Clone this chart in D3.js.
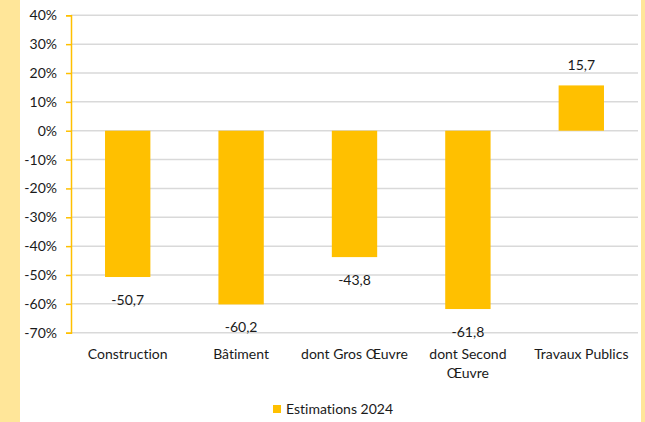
<!DOCTYPE html>
<html>
<head>
<meta charset="utf-8">
<script src="https://cdn.jsdelivr.net/npm/d3@7"></script>
<style>
  html, body { margin: 0; padding: 0; background: #fff; }
  svg { display: block; }
  text { font-family: Lato, "Open Sans", sans-serif; fill: #1a1a1a; font-variant-ligatures: none; }
</style>
</head>
<body>
<svg id="chart" width="645" height="422"></svg>
<script>
// Évolution estimée 2024 par secteur (%)
const categories = [["Construction"], ["Bâtiment"], ["dont Gros Œuvre"], ["dont Second", "Œuvre"], ["Travaux Publics"]];
const values = [-50.7, -60.2, -43.8, -61.8, 15.7];
const yTicks = [40, 30, 20, 10, 0, -10, -20, -30, -40, -50, -60, -70];
const seriesName = "Estimations 2024";

const W = 645, H = 422;
const svg = d3.select("#chart");
const barColor = "#FFC000";
const sideColor = "#FFE699";
const fs = 14;

// side bands
svg.append("rect").attr("x", 0).attr("y", 0).attr("width", 20).attr("height", H).attr("fill", sideColor);
svg.append("rect").attr("x", 641).attr("y", 0).attr("width", 4).attr("height", H).attr("fill", sideColor);

const plot = { left: 71, right: 638, top: 15.3, bottom: 332.7 };

const x = d3.scaleBand()
  .domain(d3.range(categories.length))
  .range([plot.left, plot.right])
  .paddingInner(0.6).paddingOuter(0.3);

const y = d3.scaleLinear().domain([-70, 40]).range([plot.bottom, plot.top]);

// gridlines
svg.append("g").selectAll("line").data(yTicks).join("line")
  .attr("x1", plot.left).attr("x2", plot.right)
  .attr("y1", d => y(d)).attr("y2", d => y(d))
  .attr("stroke", "#D9D9D9").attr("stroke-width", 1.5);

// bars
svg.append("g").selectAll("rect").data(values).join("rect")
  .attr("x", (d, i) => x(i))
  .attr("width", x.bandwidth())
  .attr("y", d => y(Math.max(0, d)))
  .attr("height", d => Math.abs(y(d) - y(0)))
  .attr("fill", barColor);

// value labels
const fmt = v => d3.format(".1f")(v).replace(".", ",").replace("−", "-");
svg.append("g").selectAll("text").data(values).join("text")
  .attr("x", (d, i) => x(i) + x.bandwidth() / 2)
  .attr("y", d => d >= 0 ? y(d) - 15 : y(d) + 28)
  .attr("text-anchor", "middle")
  .attr("font-size", fs)
  .text(d => fmt(d));

// y axis
const yAxis = d3.axisLeft(y).tickValues(yTicks).tickSize(5).tickPadding(9)
  .tickFormat(d => d + "%");
const ya = svg.append("g").attr("transform", `translate(${plot.left},0)`).call(yAxis);
ya.select(".domain").attr("stroke", barColor).attr("stroke-width", 1.5);
ya.selectAll(".tick line").attr("stroke", barColor).attr("stroke-width", 1.5);
ya.selectAll(".tick text").attr("font-size", fs).attr("font-family", "Lato, sans-serif").attr("fill", "#1a1a1a");

// category labels
const cat = svg.append("g").selectAll("text").data(categories).join("text")
  .attr("x", (d, i) => x(i) + x.bandwidth() / 2)
  .attr("y", 359)
  .attr("text-anchor", "middle")
  .attr("font-size", fs);
cat.selectAll("tspan").data(d => d).join("tspan")
  .attr("x", function() { return this.parentNode.getAttribute("x"); })
  .attr("dy", (d, j) => j === 0 ? 0 : 19)
  .text(d => d);

// legend
const lg = svg.append("g").attr("transform", "translate(273,405)");
lg.append("rect").attr("width", 8).attr("height", 8).attr("fill", barColor);
lg.append("text").attr("x", 13).attr("y", 9).attr("font-size", fs).text(seriesName);
</script>
</body>
</html>
